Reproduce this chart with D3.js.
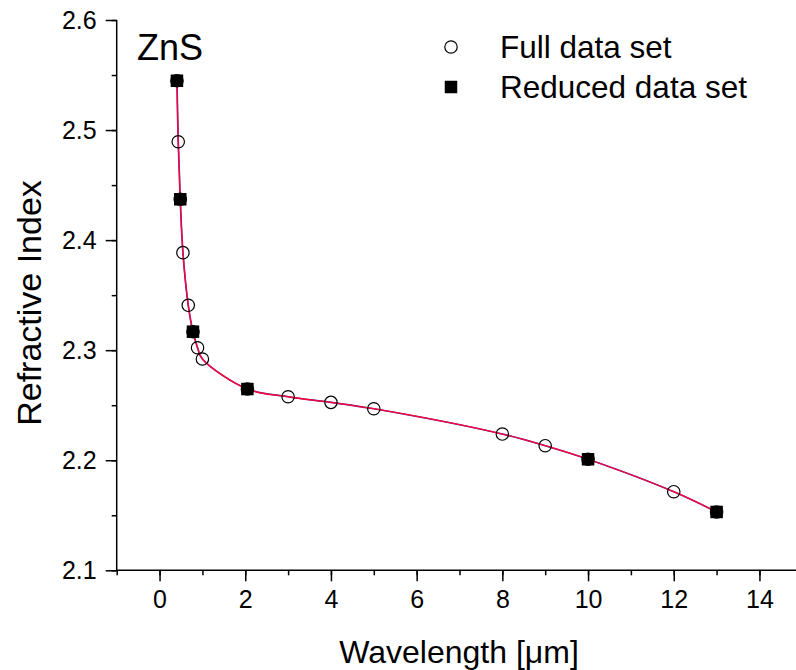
<!DOCTYPE html>
<html><head><meta charset="utf-8">
<script src="https://cdn.jsdelivr.net/npm/d3@7"></script>
<style>
body{margin:0;background:#fff;}
svg{display:block;font-family:"Liberation Sans",Arial,sans-serif;}
</style></head>
<body><svg id="c" width="796" height="670"></svg>
<script>
// Full data set (open circles)
const fullWavelength = [0.406, 0.436, 0.483, 0.546, 0.67, 0.78, 0.887, 1.0, 2.05, 3.0, 4.0, 5.0, 8.0, 9.0, 10.0, 12.0, 13.0];
const fullIndex      = [2.5448, 2.4894, 2.4371, 2.3886, 2.3408, 2.3168, 2.3022, 2.292, 2.2647, 2.2577, 2.2526, 2.2468, 2.2238, 2.2132, 2.2009, 2.1714, 2.153];
// Reduced data set (filled squares)
const reducedWavelength = [0.406, 0.483, 0.78, 2.05, 10.0, 13.0];
const reducedIndex      = [2.5448, 2.4371, 2.3168, 2.2647, 2.2009, 2.153];
const xTickLabels = [0, 2, 4, 6, 8, 10, 12, 14];
const yTickLabels = [2.1, 2.2, 2.3, 2.4, 2.5, 2.6];
const legendLabels = ["Full data set", "Reduced data set"];
const chartTitle = "ZnS";
const xTitle = "Wavelength [\u03bcm]";
const yTitle = "Refractive Index";

const FONT = "Liberation Sans, Arial, sans-serif";
const svg = d3.select("#c");
const x = d3.scaleLinear().domain([-1, 15]).range([116.7, 802.3]);
const y = d3.scaleLinear().domain([2.1, 2.6]).range([570.3, 20]);

const full = fullWavelength.map((w, i) => ({x: w, y: fullIndex[i]}));
const reduced = reducedWavelength.map((w, i) => ({x: w, y: reducedIndex[i]}));

// axes
const xMinor = d3.range(-1, 16, 1);
const yMinor = d3.range(2.1, 2.6001, 0.05);
const gx = svg.append("g").attr("transform", `translate(0,${y(2.1)})`);
gx.call(d3.axisBottom(x).tickValues(xMinor).tickSize(5).tickFormat(""))
  .call(g => g.select(".domain").remove());
gx.selectAll("line").attr("stroke", "#000").attr("stroke-width", 1.5);
const gx2 = svg.append("g").attr("transform", `translate(0,${y(2.1)})`);
gx2.call(d3.axisBottom(x).tickValues(xTickLabels).tickSize(11).tickPadding(9).tickFormat(d3.format("d")))
  .call(g => g.select(".domain").remove());
gx2.selectAll("line").attr("stroke", "#000").attr("stroke-width", 1.5);
gx2.selectAll("text").attr("font-size", 25).attr("fill", "#000").attr("font-family", FONT);

const gy = svg.append("g").attr("transform", `translate(${x(-1)},0)`);
gy.call(d3.axisLeft(y).tickValues(yMinor).tickSize(5).tickFormat(""))
  .call(g => g.select(".domain").remove());
gy.selectAll("line").attr("stroke", "#000").attr("stroke-width", 1.5);
const gy2 = svg.append("g").attr("transform", `translate(${x(-1)},0)`);
gy2.call(d3.axisLeft(y).tickValues(yTickLabels).tickSize(11).tickPadding(9).tickFormat(d3.format(".1f")))
  .call(g => g.select(".domain").remove());
gy2.selectAll("line").attr("stroke", "#000").attr("stroke-width", 1.5);
gy2.selectAll("text").attr("font-size", 25).attr("fill", "#000").attr("font-family", FONT);

// axis lines
svg.append("line").attr("x1", x(-1)).attr("x2", x(15)).attr("y1", y(2.1)).attr("y2", y(2.1))
  .attr("stroke", "#000").attr("stroke-width", 1.5);
svg.append("line").attr("x1", x(-1)).attr("x2", x(-1)).attr("y1", y(2.1)).attr("y2", y(2.6))
  .attr("stroke", "#000").attr("stroke-width", 1.5);

// fit curves
const line = d3.line().x(d => x(d.x)).y(d => y(d.y)).curve(d3.curveCatmullRom.alpha(0.5));
svg.append("path").datum(full).attr("d", line).attr("fill", "none")
  .attr("stroke", "#5a30b0").attr("stroke-width", 1.7);
svg.append("path").datum(full).attr("d", line).attr("fill", "none")
  .attr("stroke", "#ff0030").attr("stroke-width", 1.3);

// markers
svg.append("g").selectAll("circle").data(full).join("circle")
  .attr("cx", d => x(d.x)).attr("cy", d => y(d.y)).attr("r", 6.2)
  .attr("fill", "none").attr("stroke", "#000").attr("stroke-width", 1.2);
const sq = 12.5;
svg.append("g").selectAll("rect").data(reduced).join("rect")
  .attr("x", d => x(d.x) - sq/2).attr("y", d => y(d.y) - sq/2)
  .attr("width", sq).attr("height", sq).attr("fill", "#000");

// texts
svg.append("text").attr("x", 137).attr("y", 60).attr("font-size", 36).attr("font-family", FONT).text(chartTitle);
svg.append("circle").attr("cx", 451).attr("cy", 47).attr("r", 6.2)
  .attr("fill", "none").attr("stroke", "#000").attr("stroke-width", 1.2);
svg.append("rect").attr("x", 451 - sq/2).attr("y", 87 - sq/2).attr("width", sq).attr("height", sq).attr("fill", "#000");
svg.append("text").attr("x", 500).attr("y", 47).attr("dy", "0.35em").attr("font-size", 31.5).attr("font-family", FONT).text(legendLabels[0]);
svg.append("text").attr("x", 500).attr("y", 87).attr("dy", "0.35em").attr("font-size", 31.5).attr("font-family", FONT).text(legendLabels[1]);

svg.append("text").attr("x", 459).attr("y", 663).attr("text-anchor", "middle").attr("font-size", 32).attr("font-family", FONT).text(xTitle);
svg.append("text").attr("transform", "translate(41,303) rotate(-90)").attr("text-anchor", "middle")
  .attr("font-size", 34).attr("font-family", FONT).text(yTitle);
</script></body></html>
